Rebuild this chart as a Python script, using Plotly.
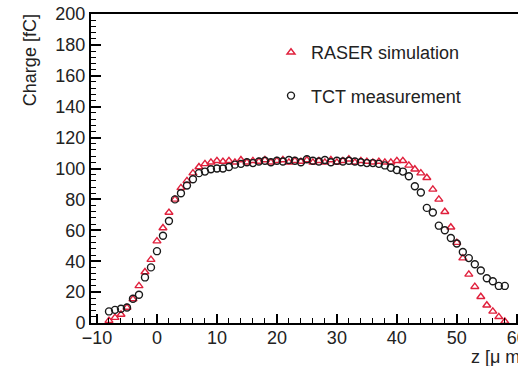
import plotly.graph_objects as go

# z positions [µm]
z = list(range(-8, 59))

# RASER simulation charge [fC]
raser = [1.5, 3.5, 5.5, 10, 15.5, 24, 33, 41, 53, 61.5, 71.5, 80, 87.5, 92, 97, 101, 103,
         104, 105, 104.5, 105, 104, 105.5, 104, 105, 104.5, 105.5, 104, 105, 105.5, 104, 105,
         104.5, 105.5, 104, 105, 104, 105.5, 104, 105, 106, 104, 105, 104.5, 104, 104.5, 104,
         104, 105, 105, 102, 99.5, 97, 94, 86.5, 80, 72, 62, 52, 42, 31.5, 23.5, 17, 11.5,
         7.5, 4, 1]

# TCT measurement charge [fC]
tct = [7.5, 8.5, 9.2, 10, 15.7, 18.3, 29.5, 36, 46.5, 56.5, 66, 80, 84, 89, 93, 97, 98,
       99.5, 100, 100, 101, 102.5, 103, 104, 103.5, 104.5, 105, 104, 105, 104.5, 105.5, 105,
       104, 106, 105, 104.5, 105.5, 104, 105, 104.5, 105, 104.5, 104, 103.5, 103.5, 103, 102,
       100.5, 99, 98, 95, 88.5, 84.5, 74.5, 71.5, 63, 60, 55, 51.5, 46, 42, 38, 34, 29, 27,
       24, 24]

x_range = [-11, 60.2]
y_range = [0, 200]
x_title = "z [μ m]"
y_title = "Charge [fC]"

FONT = "Liberation Sans, Arial, sans-serif"
TXT = "#222222"

fig = go.Figure()
fig.add_trace(go.Scatter(
    x=z, y=raser, mode="markers", name="RASER simulation",
    legendgroup="a", legendrank=1,
    marker=dict(symbol="triangle-up-open", size=7, color="#e0203c",
                line=dict(width=1.4, color="#e0203c")),
))
fig.add_trace(go.Scatter(
    x=z, y=tct, mode="markers", name="TCT measurement",
    legendgroup="b", legendrank=2,
    marker=dict(symbol="circle-open", size=7, color="#1a1a1a",
                line=dict(width=1.4, color="#1a1a1a")),
))

fig.update_layout(
    width=518, height=366,
    margin=dict(l=91, r=0, t=14, b=43, autoexpand=False),
    paper_bgcolor="white", plot_bgcolor="white",
    font=dict(family=FONT, size=18, color=TXT),
    showlegend=True,
    legend=dict(x=(271 - 91) / 427, y=(323 - 34) / 309, xanchor="left", yanchor="top",
                bgcolor="rgba(0,0,0,0)", font=dict(size=18, color=TXT),
                tracegroupgap=17, itemsizing="trace"),
    annotations=[
        dict(text=y_title, xref="paper", yref="paper",
             x=-61 / 427, y=1.006, xanchor="center", yanchor="top",
             textangle=-90, showarrow=False, font=dict(size=18, color=TXT)),
        dict(text=x_title, xref="paper", yref="paper",
             x=(469 - 91) / 427, y=-34 / 309, xanchor="left", yanchor="middle",
             showarrow=False, font=dict(size=18, color=TXT)),
    ],
)

fig.update_xaxes(
    range=x_range, showgrid=False, zeroline=False, automargin=False,
    showline=True, linecolor="black", linewidth=2, mirror=True,
    ticks="inside", ticklen=9, tickwidth=1.5, tickcolor="black",
    dtick=10, tick0=0, ticklabeloverflow="allow", ticklabelstandoff=-3,
    minor=dict(ticks="inside", ticklen=5, tickwidth=1.2, tickcolor="black", dtick=2),
    tickfont=dict(size=18, color=TXT),
)
fig.update_yaxes(
    range=y_range, showgrid=False, zeroline=False, automargin=False,
    showline=True, linecolor="black", linewidth=2, mirror=False,
    ticks="inside", ticklen=10, tickwidth=1.5, tickcolor="black",
    dtick=20, tick0=0,
    minor=dict(ticks="inside", ticklen=5, tickwidth=1.2, tickcolor="black", dtick=4),
    tickfont=dict(size=18, color=TXT),
)

fig.write_html(
    "out.html",
    config={"displayModeBar": False},
    post_script="document.body.style.margin='0';document.body.style.overflow='hidden';",
)
